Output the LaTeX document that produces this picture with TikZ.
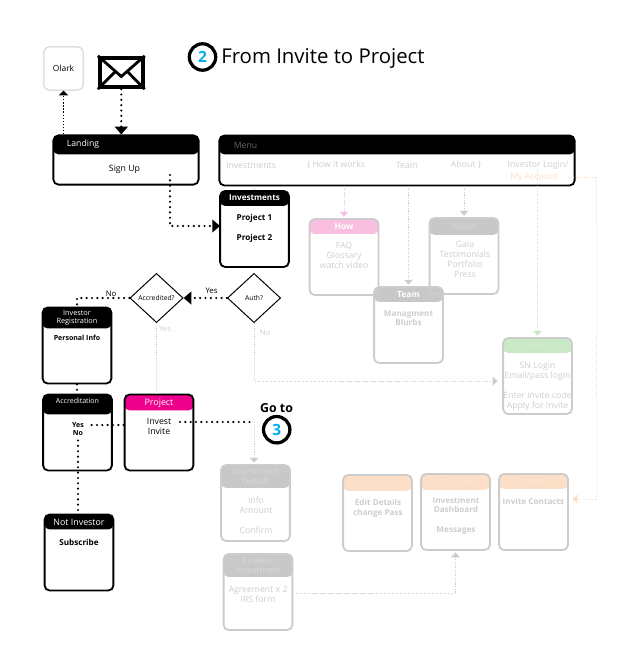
\documentclass[tikz,border=0pt]{standalone}
\usepackage{fontspec}
\setmainfont{Open Sans}
\usetikzlibrary{arrows.meta,shapes.geometric}
\definecolor{projmag}{HTML}{EC008C}
\definecolor{howpink}{HTML}{FABEE0}
\definecolor{logingreen}{HTML}{C9E8C5}
\definecolor{peach}{HTML}{FCDFC6}
\definecolor{greyhead}{HTML}{C8C8C8}
\definecolor{greyline}{HTML}{CCCCCC}
\definecolor{greytext}{HTML}{CDCDCD}
\definecolor{cyanno}{HTML}{00AEEF}
\tikzset{
  card/.style n args={3}{rectangle, rounded corners=3.6pt, draw=#3, line width=1.3pt,
    minimum width=1.72cm, minimum height=1.9cm, inner sep=0pt,
    path picture={\fill[#2] (path picture bounding box.north west) rectangle
      ([yshift=-#1*0.025cm]path picture bounding box.north east);}},
  txt/.style={inner sep=0pt, align=center, font=\fontsize{6.2}{7}\selectfont},
  head/.style={txt, text=white},
  fainthead/.style={txt, text=white!30!greyhead},
  soft/.style={txt, text=greytext},
  boldtxt/.style={txt, font=\fontsize{5.8}{7}\selectfont\bfseries},
  ask/.style={diamond, draw, line width=0.7pt, minimum width=1.33cm, minimum height=1.23cm, inner sep=0pt},
  numring/.style={circle, draw, line width=2.3pt, minimum size=0.66cm, inner sep=0pt, text=cyanno,
    font=\fontsize{11}{11}\selectfont\bfseries},
  heavy/.style={line width=1.7pt, line cap=round, dash pattern=on 0pt off 3.8pt},
  heavytip/.style={heavy, -{Triangle[length=5.5pt,width=9pt]}},
  faint/.style={line width=0.6pt, dash pattern=on 0.8pt off 1.1pt, draw=#1},
  fainttip/.style={faint=#1, -{Triangle[length=3.5pt,width=6pt,fill=#1]}, shorten >=1pt},
}
\begin{document}
\begin{tikzpicture}[x=0.025cm, y=-0.025cm]
  \useasboundingbox (0,0) rectangle (640,650);

  % title
  \node[numring] (two) at (202.5,57) {2};
  \node[inner sep=0pt, anchor=west, font=\fontsize{14.5}{15}\selectfont] (title) at (221,58) {From Invite to Project};

  % top row
  \node[draw=greyline, rectangle, rounded corners=3.6pt, line width=0.6pt, minimum width=0.98cm,
    minimum height=1.08cm, inner sep=0pt, font=\fontsize{6}{6}\selectfont] (olark) at (63.5,68.5) {Olark};
  \node[draw, rectangle, line width=2.6pt, minimum width=1.08cm, minimum height=0.74cm, inner sep=0pt] (mail) at (121.3,72.5) {};
  \draw[line width=2pt] (mail.north west) -- ([shift={(0,4)}]mail.center) -- (mail.north east);
  \draw[line width=2pt] (mail.south west) -- ([shift={(-6,-1)}]mail.center);
  \draw[line width=2pt] (mail.south east) -- ([shift={(6,-1)}]mail.center);

  \node[card={19}{black}{black}, minimum width=3.63cm, minimum height=1.23cm] (landing) at (126,160) {};
  \node[head] (landing-t) at (83,144.5) {Landing};
  \node[txt] (signup) at (124.5,169) {Sign Up};

  \node[card={19}{black}{black}, minimum width=8.88cm, minimum height=1.25cm] (menu) at (397,160.5) {};
  \node[txt, text=black!60] (menu-t) at (245.5,145.5) {Menu};
  \node[soft] (m-invest) at (251,165) {Investments};
  \node[soft] (m-how) at (336,165) {\{ How it works};
  \node[soft] (m-team) at (407,165) {Team};
  \node[soft] (m-about) at (466,165) {About \}};
  \node[soft] (m-login) at (538,165) {Investor Login/};
  \node[txt, text=peach] (m-account) at (534,177) {My Account};

  % black cards
  \node[card={15}{black}{black}] (invest) at (254.5,229) {};
  \node[head, font=\fontsize{5.8}{7}\selectfont\bfseries] (invest-t) at (254.5,198) {Investments};
  \node[boldtxt] (p-one) at (254.5,218) {Project 1};
  \node[boldtxt] (p-two) at (254.5,238) {Project 2};

  \node[ask, label={center:\fontsize{4.8}{5}\selectfont Auth?}] (auth) at (254,298) {};
  \node[ask, label={center:\fontsize{4.8}{5}\selectfont Accredited?}] (accred) at (156.5,298) {};

  \node[card={21}{black}{black}] (reg) at (77,345.5) {};
  \node[head, font=\fontsize{5.2}{6}\selectfont] (reg-t) at (77,318) {Investor\\Registration};
  \node[boldtxt, font=\fontsize{5}{6}\selectfont\bfseries] (reg-b) at (77,338) {Personal Info};

  \node[card={20}{black}{black}] (acc) at (77.5,432.5) {};
  \node[head, font=\fontsize{5}{6}\selectfont] (acc-t) at (77.5,401) {Accreditation};
  \node[boldtxt, font=\fontsize{5}{6}\selectfont\bfseries] (a-yes) at (78,425) {Yes};
  \node[boldtxt, font=\fontsize{5}{6}\selectfont\bfseries] (a-no) at (78,433.5) {No};

  \node[card={16}{projmag}{black}] (project) at (159,432.5) {};
  \node[head, font=\fontsize{6.3}{7}\selectfont] (project-t) at (159,403) {Project};
  \node[txt, anchor=north] (project-b) at (159,418) {Invest\\Invite};

  \node[card={15}{black}{black}] (notinv) at (79,552.5) {};
  \node[head, font=\fontsize{6.3}{7}\selectfont] (notinv-t) at (79,522) {Not Investor};
  \node[boldtxt] (notinv-b) at (79,542) {Subscribe};

  \node[inner sep=0pt, font=\fontsize{8.8}{9}\selectfont\bfseries] (goto) at (276.5,408) {Go to};
  \node[numring] (three) at (276.7,429.7) {3};

  % grey cards
  \node[card={15}{greyhead}{greyline}] (team) at (408.5,325) {};
  \node[head, font=\fontsize{6}{7}\selectfont\bfseries] (team-t) at (408.5,295) {Team};
  \node[soft, anchor=north, font=\fontsize{5.8}{7}\selectfont\bfseries] (team-b) at (408.5,310) {Managment\\Blurbs};

  \node[card={15}{howpink}{greyline}] (how) at (344,257) {};
  \node[head, font=\fontsize{6}{7}\selectfont\bfseries] (how-t) at (344,227) {How};
  \node[soft, anchor=north] (how-b) at (344,242) {FAQ\\Glossary\\watch video};

  \node[card={17}{greyhead}{greyline}] (about) at (464,256) {};
  \node[fainthead] (about-t) at (464,226) {About};
  \node[soft, anchor=north] (about-b) at (465,241) {Gaia\\Testimonials\\Portfolio\\Press};

  \node[card={15}{logingreen}{greyline}] (login) at (537.5,376) {};
  \node[fainthead, text=white!25!logingreen] (login-t) at (537.5,346) {Login};
  \node[soft, anchor=north] (login-b) at (537.5,362) {SN Login\\Email/pass login\\[7pt]Enter invite code\\Apply for Invite};

  \node[card={23}{greyhead}{greyline}] (details) at (255.5,503) {};
  \node[fainthead] (details-t) at (256,476.5) {Investment\\Details};
  \node[soft, anchor=north] (details-b) at (256,497) {Info\\Amount\\[7pt]Confirm};

  \node[card={23}{greyhead}{greyline}] (final) at (258,592) {};
  \node[fainthead] (final-t) at (258,565.5) {Finalize\\Investment};
  \node[soft, anchor=north] (final-b) at (258,586) {Agreement x 2\\IRS form};

  \node[card={16}{peach}{greyline}] (profile) at (377.5,513) {};
  \node[fainthead, text=white!25!peach] (profile-t) at (377.5,483) {Profile};
  \node[soft, anchor=north, font=\fontsize{5.8}{7}\selectfont\bfseries] (profile-b) at (378,499) {Edit Details\\change Pass};

  \node[card={16}{peach}{greyline}] (portfolio) at (455.5,512) {};
  \node[fainthead, text=white!25!peach] (portfolio-t) at (455.5,482) {Portfolio};
  \node[soft, anchor=north, font=\fontsize{5.8}{7}\selectfont\bfseries] (portfolio-b) at (456,497) {Investment\\Dashboard\\[7pt]Messages};

  \node[card={15}{peach}{greyline}] (invite) at (533.5,512) {};
  \node[fainthead, text=white!25!peach] (invite-t) at (533.5,481.5) {Invite};
  \node[soft, font=\fontsize{5.8}{7}\selectfont\bfseries] (invite-b) at (533.5,501) {Invite Contacts};

  % free ends
  \coordinate (signup-out) at (170,175);
  \coordinate (invest-in) at (220,226);
  \coordinate (invest-out) at (180,422);
  \coordinate (goto-turn) at (254,422);
  \coordinate (login-in) at (499,381);
  \coordinate (invite-turn) at (596,499);
  \coordinate (invite-in) at (571,499);
  \coordinate (final-out) at (293,593);

  % black connectors
  \draw[line width=0.7pt, dash pattern=on 1pt off 1.2pt, -{Triangle[length=3.5pt,width=6.5pt]}]
    (landing.north -| olark.south) -- (olark.south);
  \draw[heavytip] (mail.south) -- (mail.south |- landing.north);
  \draw[heavytip] (signup-out) |- (invest-in);
  \draw[heavytip] (auth.west) -- (accred.east);
  \draw[heavy] (accred.west) -| (reg.north);
  \draw[heavy] (reg.south) -- (reg.south |- acc.north);
  \draw[heavy] (project.west |- a-yes) -- ([xshift=2pt]a-yes.east);
  \draw[heavy] ([yshift=-3pt]a-no.south) -- ([yshift=-3pt]a-no.south |- notinv.north);
  \draw[heavy] (invest-out) -- (goto-turn);

  % grey connectors
  \draw[fainttip=greyline] (goto-turn) -- (goto-turn |- details.north);
  \draw[faint=greyline] (accred.south) -- (accred.south |- project.north);
  \draw[fainttip=greyline] (auth.south) |- (login-in);
  \draw[faint=greyline] (menu.south -| invest.north) -- (invest.north);
  \draw[fainttip=howpink] (menu.south -| how.north) -- (how.north);
  \draw[fainttip=greyline] (menu.south -| team.north) -- (team.north);
  \draw[fainttip=greyline] (menu.south -| about.north) -- (about.north);
  \draw[fainttip=logingreen] (m-login.south -| login.north) -- (login.north);
  \draw[faint=peach] ([xshift=5pt]m-account.east) -| (invite-turn);
  \draw[fainttip=peach] (invite-turn) -- (invite-in);
  \draw[fainttip=greyline] (final-out) -| (portfolio.south);

  % labels on the decisions
  \node[txt, font=\fontsize{5.5}{5.5}\selectfont] (yes-auth) at (211.5,291) {Yes};
  \node[txt, font=\fontsize{5.5}{5.5}\selectfont] (no-acc) at (111,294) {No};
  \node[soft, font=\fontsize{5.5}{5.5}\selectfont] (yes-acc) at (165,329) {Yes};
  \node[soft, font=\fontsize{5.5}{5.5}\selectfont] (no-auth) at (265,333) {No};
\end{tikzpicture}
\end{document}
